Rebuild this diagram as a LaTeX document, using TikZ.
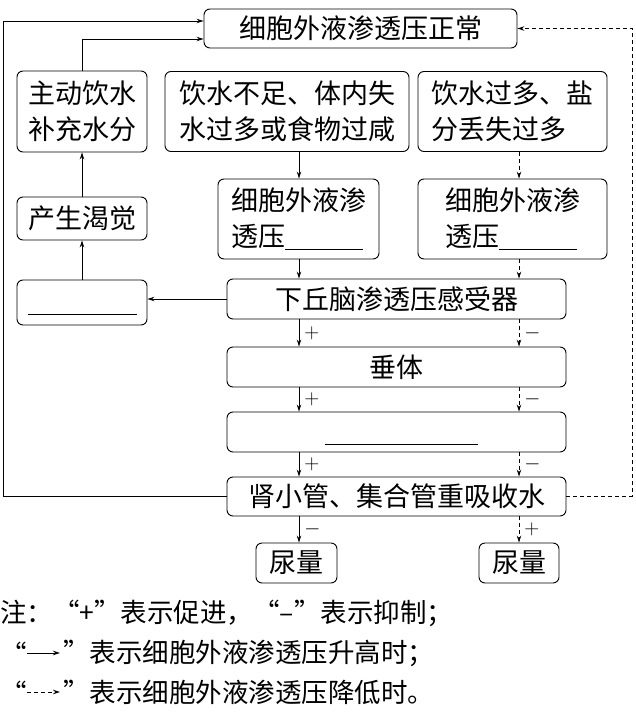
\documentclass[tikz,border=0pt]{standalone}
\usepackage{fontspec}
\setmainfont{Noto Sans CJK SC}
\usetikzlibrary{arrows.meta}

\begin{document}
\begin{tikzpicture}[x=1pt,y=-1pt,
        kuang/.style={rectangle,draw,rounded corners=6pt,line width=0.9pt,inner sep=2pt,font=\fontsize{27}{36}\selectfont},
        jt/.style={-{Stealth[length=7pt,width=4.5pt]},line width=0.9pt},
        xu/.style={jt,dash pattern=on 4pt off 3pt},
        fh/.style={font=\fontsize{20}{20}\selectfont,inner sep=1pt,right=4pt},
        zhu/.style={anchor=west,inner sep=0pt,font=\fontsize{26.5}{30}\selectfont}]
        \useasboundingbox (0,0) rectangle (636,714);

        % 顶部和第一行
        \node[kuang,minimum width=313pt,minimum height=39pt] (zc) at (360.5,28.5) {细胞外液渗透压正常};
        \node[kuang,minimum width=130pt,minimum height=81pt,align=center] (zd) at (82,111.5) {主动饮水\\补充水分};
        \node[kuang,minimum width=244pt,minimum height=80pt,align=center] (bz) at (287,111.5) {饮水不足、体内失\\水过多或食物过咸};
        \node[kuang,minimum width=189pt,minimum height=80pt,align=left] (gd) at (512.5,111.5) {饮水过多、盐\\分丢失过多};

        % 第二行
        \node[kuang,minimum width=130pt,minimum height=43pt] (kj) at (82,218.5) {产生渴觉};
        \node[kuang,minimum width=161pt,minimum height=80pt,align=left] (sg) at (298.5,219) {细胞外液渗\\透压\rule[-3pt]{78pt}{0.8pt}};
        \node[kuang,minimum width=189pt,minimum height=80pt,align=left] (jd) at (512.5,219) {细胞外液渗\\透压\rule[-3pt]{78pt}{0.8pt}};

        % 中间一列
        \node[kuang,minimum width=130pt,minimum height=45pt] (dnp) at (82,302.5) {};
        \node[kuang,minimum width=339pt,minimum height=40pt] (xqn) at (396.5,299) {下丘脑渗透压感受器};
        \node[kuang,minimum width=339pt,minimum height=40pt] (ct) at (396.5,367) {垂体};
        \node[kuang,minimum width=339pt,minimum height=40pt] (kw) at (396.5,432) {};
        \node[kuang,minimum width=339pt,minimum height=39pt] (sxg) at (396.5,496.5) {肾小管、集合管重吸收水};
        \node[kuang,minimum width=81pt,minimum height=40pt] (ny1) at (296.5,563) {尿量};
        \node[kuang,minimum width=80pt,minimum height=40pt] (ny2) at (519,563) {尿量};

        % 空格横线
        \draw[line width=0.9pt] ([xshift=-54.5pt,yshift=-11.5pt]dnp.center) -- ++(109pt,0);
        \draw[line width=0.9pt] ([xshift=-71.5pt,yshift=-12pt]kw.center) -- ++(153pt,0);

        \coordinate (cl) at (299,0);
        \coordinate (cr) at (519,0);
        \coordinate (xl) at (3,21);
        \coordinate (yr) at (632,0);

        % 左边
        \draw[jt] (dnp) -- (kj);
        \draw[jt] (kj) -- (zd);
        \draw[jt] (zd.north) |- ([yshift=-10.5pt]zc.west);
        \draw[jt] (xqn.west) -- (xqn.west -| dnp.east);
        \draw[jt] (sxg.west) -| (xl) -- (xl -| zc.west);

        % 实线箭头
        \draw[jt] (bz.south -| cl) -- (sg.north -| cl);
        \draw[jt] (sg.south -| cl) -- (xqn.north -| cl);
        \draw[jt] (xqn.south -| cl) -- node[fh] {$+$} (ct.north -| cl);
        \draw[jt] (ct.south -| cl) -- node[fh] {$+$} (kw.north -| cl);
        \draw[jt] (kw.south -| cl) -- node[fh] {$+$} (sxg.north -| cl);
        \draw[jt] (sxg.south -| cl) -- node[fh] {$-$} (ny1.north -| cl);

        % 虚线箭头
        \draw[xu] (gd.south -| cr) -- (jd.north -| cr);
        \draw[xu] (jd.south -| cr) -- (xqn.north -| cr);
        \draw[xu] (xqn.south -| cr) -- node[fh] {$-$} (ct.north -| cr);
        \draw[xu] (ct.south -| cr) -- node[fh] {$-$} (kw.north -| cr);
        \draw[xu] (kw.south -| cr) -- node[fh] {$-$} (sxg.north -| cr);
        \draw[xu] (sxg.south -| cr) -- node[fh] {$+$} (ny2.north -| cr);
        \draw[xu] (sxg.east) -- (sxg.east -| yr) -- (zc.east -| yr) -- (zc.east);

        % 注
        \node[zhu] (zs) at (0,613) {注：“+”表示促进，“–”表示抑制；};
        \node[zhu] (q2) at (0,653) {“};
        \node[zhu] (q3) at (0,692) {“};
        \coordinate (b2) at (60,653);
        \coordinate (b3) at (60,692);
        \draw[jt] (q2.east) -- (b2);
        \draw[xu] (q3.east) -- (b3);
        \node[zhu] (t2) at ([xshift=3pt]b2) {”表示细胞外液渗透压升高时；};
        \node[zhu] (t3) at ([xshift=3pt]b3) {”表示细胞外液渗透压降低时。};
    \end{tikzpicture}
\end{document}
